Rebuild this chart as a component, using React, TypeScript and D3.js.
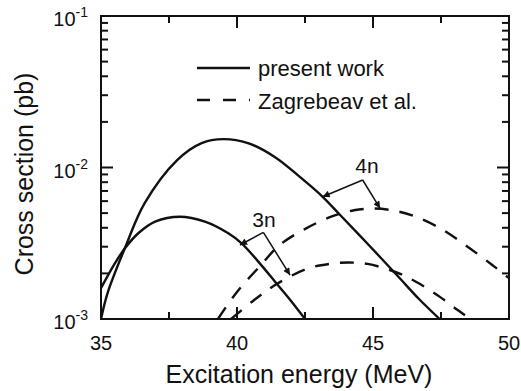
import React from 'react';
import * as d3 from 'd3';

// ---- data ----
const xMajorTicks = [35, 40, 45, 50];
const xMinorTicks = [37.5, 42.5, 47.5];
const yDecades = [-3, -2, -1];

// present work, 4n
const present4nE = [35.0, 35.25, 35.9, 36.6, 37.8, 38.7, 39.5, 40.4, 41.4, 42.3, 43.15, 43.8, 44.8, 45.9, 46.7, 47.45];
const present4nS = [1.0e-3, 1.5e-3, 3.0e-3, 5.8e-3, 1.12e-2, 1.45e-2, 1.54e-2, 1.45e-2, 1.17e-2, 8.7e-3, 6.41e-3, 4.84e-3, 3.14e-3, 1.93e-3, 1.35e-3, 1.0e-3];

// present work, 3n
const present3nE = [35.0, 35.51, 35.88, 36.37, 36.99, 37.9, 38.82, 39.68, 40.17, 40.9, 41.4, 41.95, 42.5];
const present3nS = [1.6e-3, 2.33e-3, 2.93e-3, 3.68e-3, 4.39e-3, 4.73e-3, 4.39e-3, 3.68e-3, 3.16e-3, 2.26e-3, 1.76e-3, 1.34e-3, 1.0e-3];

// Zagrebaev et al., 4n
const zag4nE = [39.3, 40.0, 40.85, 41.58, 42.56, 43.54, 44.3, 45.0, 45.7, 46.49, 47.46, 48.38, 49.36, 50.0];
const zag4nS = [1.0e-3, 1.51e-3, 2.24e-3, 3.09e-3, 3.98e-3, 4.79e-3, 5.22e-3, 5.36e-3, 5.22e-3, 4.79e-3, 3.98e-3, 3.09e-3, 2.29e-3, 1.86e-3];

// Zagrebaev et al., 3n
const zag3nE = [39.78, 40.6, 41.46, 42.56, 43.4, 44.1, 44.8, 45.5, 46.1, 46.73, 47.46, 48.1, 48.57];
const zag3nS = [1.0e-3, 1.32e-3, 1.7e-3, 2.14e-3, 2.31e-3, 2.36e-3, 2.31e-3, 2.14e-3, 1.95e-3, 1.7e-3, 1.4e-3, 1.15e-3, 1.0e-3];

// annotations (data units): label, label anchor, apex, tip on solid, tip on dashed
const annLabels = ['4n', '3n'];
const annLabelE = [44.78, 40.99];
const annLabelS = [9.2e-3, 4.05e-3];
const annApexE = [44.62, 40.97];
const annApexS = [8.27e-3, 3.73e-3];
const annSolidTipE = [43.15, 40.11];
const annSolidTipS = [6.41e-3, 3.08e-3];
const annDashTipE = [45.26, 41.95];
const annDashTipS = [5.38e-3, 1.95e-3];

const legendLabels = ['present work', 'Zagrebeav et al.'];

const FONT = '"Liberation Sans", Arial, Helvetica, sans-serif';

export default function App() {
  const left = 101, right = 509, top = 16, bottom = 319;
  const x = d3.scaleLinear().domain([35, 50]).range([left, right]);
  const y = d3.scaleLog().domain([1e-3, 1e-1]).range([bottom, top]);

  const line = d3
    .line<[number, number]>()
    .x((d) => x(d[0]))
    .y((d) => y(d[1]))
    .curve(d3.curveCatmullRom.alpha(0.5));

  const zip = (a: number[], b: number[]) => a.map((v, i) => [v, b[i]] as [number, number]);

  const series = [
    { e: present4nE, s: present4nS, dash: undefined },
    { e: present3nE, s: present3nS, dash: undefined },
    { e: zag4nE, s: zag4nS, dash: '14 11' },
    { e: zag3nE, s: zag3nS, dash: '14 11' },
  ];

  const minorY: number[] = [];
  yDecades.slice(0, 2).forEach((d) => {
    for (let k = 2; k <= 9; k++) minorY.push(k * Math.pow(10, d));
  });

  const majorLen = 12, minorLen = 7;
  const stroke = '#111';

  return (
    <svg
      width={521}
      height={391}
      style={{ position: 'absolute', left: 0, top: 0, background: '#fff' }}
      fontFamily={FONT}
    >
      <defs>
        <clipPath id="plotClip">
          <rect x={left} y={top} width={right - left} height={bottom - top} />
        </clipPath>
        <marker
          id="arrowHead"
          viewBox="0 0 10 10"
          refX={10}
          refY={5}
          markerWidth={9}
          markerHeight={7}
          markerUnits="userSpaceOnUse"
          orient="auto"
        >
          <path d="M0,0 L10,5 L0,10 z" fill={stroke} />
        </marker>
      </defs>
      <rect x={0} y={0} width={521} height={391} fill="#fff" />

      {/* curves */}
      <g clipPath="url(#plotClip)">
        {series.map((sr, i) => (
          <path
            key={i}
            d={line(zip(sr.e, sr.s)) || ''}
            fill="none"
            stroke={stroke}
            strokeWidth={2.4}
            strokeDasharray={sr.dash}
          />
        ))}
      </g>

      {/* frame */}
      <rect x={left} y={top} width={right - left} height={bottom - top} fill="none" stroke={stroke} strokeWidth={2} />

      {/* x ticks */}
      {xMajorTicks.map((t) => (
        <g key={'xM' + t}>
          <line x1={x(t)} x2={x(t)} y1={bottom} y2={bottom - majorLen} stroke={stroke} strokeWidth={2} />
          <line x1={x(t)} x2={x(t)} y1={top} y2={top + majorLen} stroke={stroke} strokeWidth={2} />
          <text x={x(t)} y={350} fontSize={20} textAnchor="middle" fill={stroke}>
            {t}
          </text>
        </g>
      ))}
      {xMinorTicks.map((t) => (
        <g key={'xm' + t}>
          <line x1={x(t)} x2={x(t)} y1={bottom} y2={bottom - minorLen} stroke={stroke} strokeWidth={2} />
          <line x1={x(t)} x2={x(t)} y1={top} y2={top + minorLen} stroke={stroke} strokeWidth={2} />
        </g>
      ))}

      {/* y ticks */}
      {yDecades.map((d) => {
        const v = Math.pow(10, d);
        return (
          <g key={'yM' + d}>
            <line x1={left} x2={left + majorLen} y1={y(v)} y2={y(v)} stroke={stroke} strokeWidth={2} />
            <line x1={right} x2={right - majorLen} y1={y(v)} y2={y(v)} stroke={stroke} strokeWidth={2} />
            <text x={88} y={y(v) + 10} textAnchor="end" fill={stroke}>
              <tspan fontSize={20}>10</tspan>
              <tspan fontSize={14} dy={-9}>
                {String(d)}
              </tspan>
            </text>
          </g>
        );
      })}
      {minorY.map((v, i) => (
        <g key={'ym' + i}>
          <line x1={left} x2={left + minorLen} y1={y(v)} y2={y(v)} stroke={stroke} strokeWidth={2} />
          <line x1={right} x2={right - minorLen} y1={y(v)} y2={y(v)} stroke={stroke} strokeWidth={2} />
        </g>
      ))}

      {/* axis titles */}
      <text x={299} y={383} fontSize={25} textAnchor="middle" fill={stroke}>
        Excitation energy (MeV)
      </text>
      <text
        transform={`translate(33, 174) rotate(-90)`}
        fontSize={25}
        textAnchor="middle"
        fill={stroke}
      >
        Cross section (pb)
      </text>

      {/* legend */}
      <line x1={197} x2={250} y1={68} y2={68} stroke={stroke} strokeWidth={2.4} />
      <text x={258} y={76} fontSize={22} fill={stroke}>
        {legendLabels[0]}
      </text>
      <line x1={197} x2={250} y1={100} y2={100} stroke={stroke} strokeWidth={2.4} strokeDasharray="13 13" />
      <text x={258} y={109} fontSize={22} fill={stroke}>
        {legendLabels[1]}
      </text>

      {/* annotations */}
      {annLabels.map((lab, i) => (
        <g key={'ann' + i}>
          <text x={x(annLabelE[i])} y={y(annLabelS[i])} fontSize={21} textAnchor="middle" fill={stroke}>
            {lab}
          </text>
          <line
            x1={x(annApexE[i])}
            y1={y(annApexS[i])}
            x2={x(annSolidTipE[i])}
            y2={y(annSolidTipS[i])}
            stroke={stroke}
            strokeWidth={1.5}
            markerEnd="url(#arrowHead)"
          />
          <line
            x1={x(annApexE[i])}
            y1={y(annApexS[i])}
            x2={x(annDashTipE[i])}
            y2={y(annDashTipS[i])}
            stroke={stroke}
            strokeWidth={1.5}
            markerEnd="url(#arrowHead)"
          />
        </g>
      ))}
    </svg>
  );
}
